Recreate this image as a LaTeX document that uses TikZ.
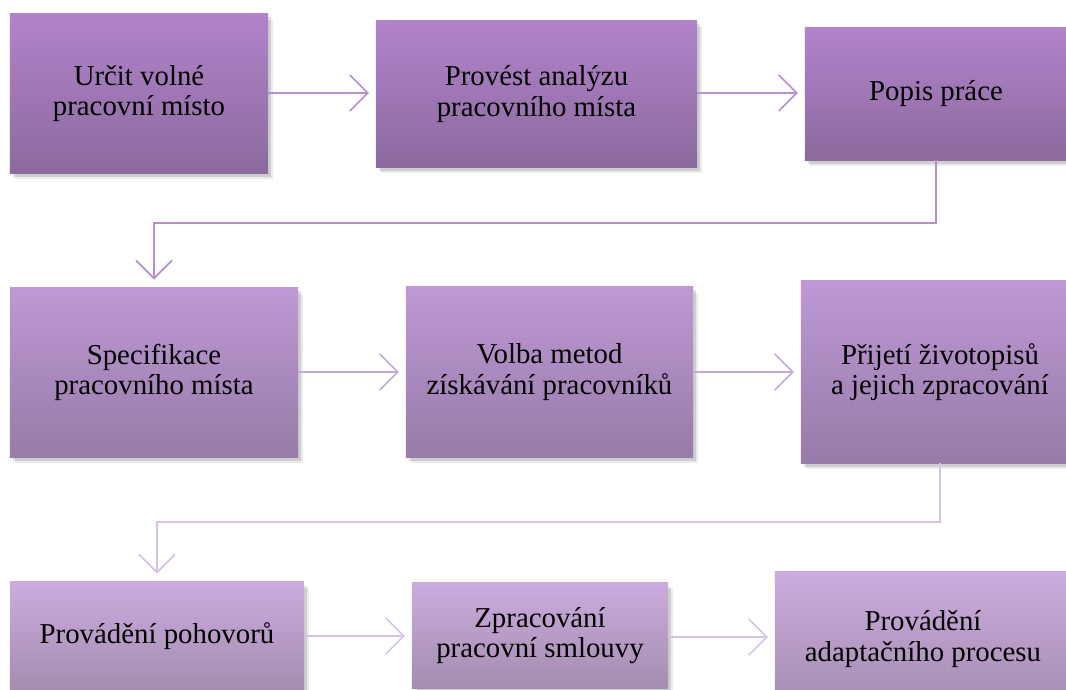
\documentclass[tikz,border=0pt]{standalone}
\usepackage{fontspec}
\setmainfont{Liberation Serif}
\usepackage{tikz}
\usetikzlibrary{arrows.meta, positioning, shadows, calc}

\definecolor{rowonetop}{HTML}{B283CB}
\definecolor{rowonebot}{HTML}{8B6A9E}
\definecolor{rowtwotop}{HTML}{BE99D5}
\definecolor{rowtwobot}{HTML}{977BA8}
\definecolor{rowthreetop}{HTML}{CCABDE}
\definecolor{rowthreebot}{HTML}{A48DB0}
\definecolor{lineone}{HTML}{B590CC}
\definecolor{linetwo}{HTML}{C6A9DA}
\definecolor{linethree}{HTML}{D6C2E4}

\tikzstyle{stepbox} = [rectangle, inner sep=0pt, outer sep=0pt, align=center,
  font=\fontsize{20.5}{21.5}\selectfont,
  drop shadow={shadow xshift=3.5pt, shadow yshift=-4pt, opacity=0.08, fill=black},
  drop shadow={shadow xshift=2pt, shadow yshift=-2.5pt, opacity=0.12, fill=black}]
\tikzstyle{rowone} = [stepbox, top color=rowonetop, bottom color=rowonebot]
\tikzstyle{rowtwo} = [stepbox, top color=rowtwotop, bottom color=rowtwobot]
\tikzstyle{rowthree} = [stepbox, top color=rowthreetop, bottom color=rowthreebot]
\tikzstyle{flow} = [line width=1.2pt, ->, >={Straight Barb[length=4.5mm, width=9mm]}, shorten >=5pt]

\begin{document}
\begin{tikzpicture}[x=0.025cm, y=-0.025cm]

\useasboundingbox (0, 0) rectangle (1066, 690);

% first row
\node [rowone, minimum width=6.45cm, minimum height=3.975cm] (urcit) at (139, 93.5) {Určit volné\\pracovní místo};
\node [rowone, minimum width=8.025cm, minimum height=3.65cm] (analyza) at (536.5, 94) {Provést analýzu\\pracovního místa};
\node [rowone, minimum width=6.55cm, minimum height=3.3cm] (popis) at (936, 94) {Popis práce};

% second row
\node [rowtwo, minimum width=7.2cm, minimum height=4.225cm] (specifikace) at (154, 372.5) {Specifikace\\pracovního místa};
\node [rowtwo, minimum width=7.175cm, minimum height=4.25cm] (volba) at (549.5, 372) {Volba metod\\získávání pracovníků};
\node [rowtwo, minimum width=6.95cm, minimum height=4.55cm] (prijeti) at (940, 372) {Přijetí životopisů\\a jejich zpracování};

% third row
\node [rowthree, minimum width=7.35cm, minimum height=2.7cm] (pohovory) at (157, 636) {Provádění pohovorů};
\node [rowthree, minimum width=6.4cm, minimum height=2.625cm] (smlouva) at (540, 635.5) {Zpracování\\pracovní smlouvy};
\node [rowthree, minimum width=7.4cm, minimum height=3.35cm] (adaptace) at (923, 639) {Provádění\\adaptačního procesu};

\coordinate (ohyb1) at (500, 223);
\coordinate (ohyb2) at (500, 522);

\draw [flow, lineone] (urcit.east |- 0, 93) -- (analyza.west |- 0, 93);
\draw [flow, lineone] (analyza.east |- 0, 93) -- (popis.west |- 0, 93);
\draw [flow, lineone, shorten >=6pt] (popis.south) |- (ohyb1) -| (specifikace.north);

\draw [flow, linetwo] (specifikace.east |- 0, 372) -- (volba.west |- 0, 372);
\draw [flow, linetwo] (volba.east |- 0, 372) -- (prijeti.west |- 0, 372);
\draw [flow, linethree, shorten >=6pt] (prijeti.south) |- (ohyb2) -| (pohovory.north);

\draw [flow, linethree] (pohovory.east |- 0, 636) -- (smlouva.west |- 0, 636);
\draw [flow, linethree] (smlouva.east |- 0, 637) -- (adaptace.west |- 0, 637);

\end{tikzpicture}
\end{document}
